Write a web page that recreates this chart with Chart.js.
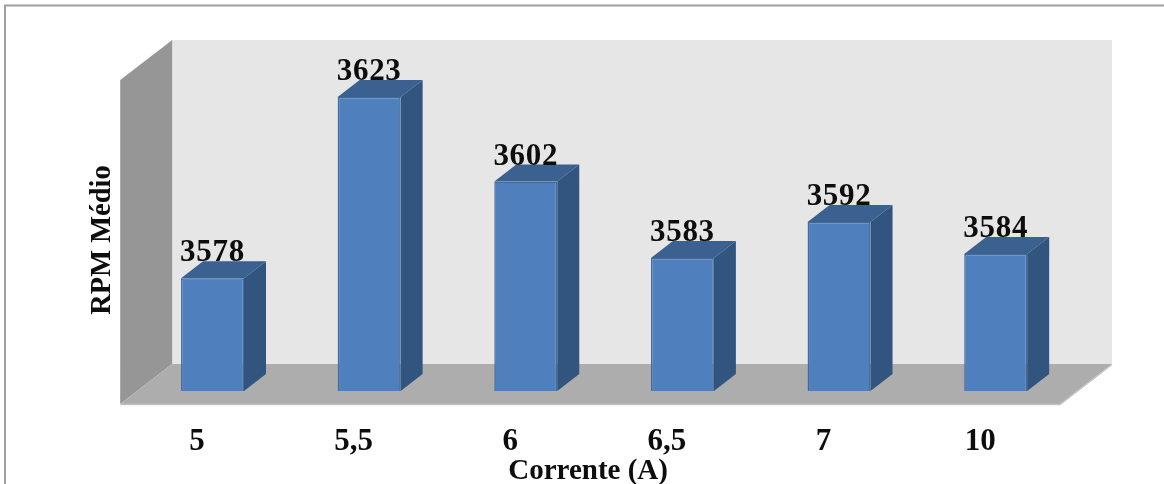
<!DOCTYPE html>
<html>
<head>
<meta charset="utf-8">
<title>RPM Médio</title>
<style>
  html, body { margin: 0; padding: 0; background: #ffffff; }
  #grafico { display: block; }
</style>
<script src="https://cdn.jsdelivr.net/npm/chart.js@4/dist/chart.umd.min.js"></script>
</head>
<body>
<canvas id="grafico" width="1164" height="484"></canvas>
<script>
var categorias = ['5', '5,5', '6', '6,5', '7', '10'];
var rpm_medio = [3578, 3623, 3602, 3583, 3592, 3584];

var titulo_x = 'Corrente (A)';
var titulo_y = 'RPM Médio';

var fonte = '"Liberation Serif", serif';

// Profundidade da barra e do fundo do grafico
var barra_dx = 22, barra_dy = 17;
var fundo_dx = 52, fundo_dy = 40;

function poligono(ctx, pontos, cor) {
    ctx.beginPath();
    ctx.moveTo(pontos[0][0], pontos[0][1]);
    for (var i = 1; i < pontos.length; i++) {
        ctx.lineTo(pontos[i][0], pontos[i][1]);
    }
    ctx.closePath();
    ctx.fillStyle = cor;
    ctx.fill();
}

// Moldura, paredes e chao, atras das barras
var paredes = {
    id: 'paredes',
    beforeDatasetsDraw: function (chart) {
        var ctx = chart.ctx, a = chart.chartArea;
        var esq = a.left - 14, dir = a.right - 14, base = a.bottom + 13;
        var topo = a.top - 9;

        ctx.save();
        ctx.strokeStyle = '#a0a0a0';
        ctx.lineWidth = 2;
        ctx.beginPath();
        ctx.moveTo(5, 484);
        ctx.lineTo(5, 5.5);
        ctx.lineTo(1164, 5.5);
        ctx.stroke();

        poligono(ctx, [[esq + fundo_dx, topo - fundo_dy], [dir + fundo_dx, topo - fundo_dy],
                       [dir + fundo_dx, base - fundo_dy], [esq + fundo_dx, base - fundo_dy]], '#e6e6e6');
        poligono(ctx, [[esq, topo], [esq + fundo_dx, topo - fundo_dy],
                       [esq + fundo_dx, base - fundo_dy], [esq, base]], '#969696');
        poligono(ctx, [[esq, base], [esq + fundo_dx, base - fundo_dy],
                       [dir + fundo_dx, base - fundo_dy], [dir, base]], '#adadad');

        ctx.strokeStyle = '#c4c4c4';
        ctx.lineWidth = 1.5;
        ctx.beginPath();
        ctx.moveTo(esq, base + 0.5);
        ctx.lineTo(dir, base + 0.5);
        ctx.lineTo(dir + fundo_dx, base - fundo_dy + 0.5);
        ctx.stroke();

        // Faces de cima e do lado de cada barra
        chart.getDatasetMeta(0).data.forEach(function (barra) {
            var x0 = barra.x - barra.width / 2, x1 = barra.x + barra.width / 2;
            poligono(ctx, [[x0, barra.y], [x0 + barra_dx, barra.y - barra_dy],
                           [x1 + barra_dx, barra.y - barra_dy], [x1, barra.y]], '#3a6190');
            poligono(ctx, [[x1, barra.y], [x1 + barra_dx, barra.y - barra_dy],
                           [x1 + barra_dx, barra.base - barra_dy], [x1, barra.base]], '#32557f');
        });
        ctx.restore();
    },
    afterDatasetsDraw: function (chart) {
        var ctx = chart.ctx, a = chart.chartArea;
        ctx.save();
        ctx.fillStyle = '#0d0d0d';
        ctx.textAlign = 'center';
        ctx.textBaseline = 'alphabetic';
        ctx.font = 'bold 31px ' + fonte;
        ctx.letterSpacing = '0.7px';
        chart.getDatasetMeta(0).data.forEach(function (barra, i) {
            ctx.fillText(rpm_medio[i], barra.x, barra.y - barra_dy);
        });
        ctx.letterSpacing = '0px';
        // Titulo do eixo x, alinhado com a frente do chao
        ctx.font = 'bold 29px ' + fonte;
        ctx.fillText(titulo_x, (a.left + a.right) / 2 - 16, 479);
        ctx.restore();
    }
};

var ctx = document.getElementById('grafico').getContext('2d');

var myChart = new Chart(ctx, {
    type: 'bar',
    data: {
        labels: categorias,
        datasets: [{
            data: rpm_medio,
            base: 3550,
            backgroundColor: '#4f80bd',
            borderColor: '#3f6c9f',
            borderWidth: 1.5,
            barPercentage: 0.402,
            categoryPercentage: 1
        }]
    },
    options: {
        responsive: false,
        animation: false,
        layout: {
            padding: { left: 80, right: 90, top: 89, bottom: 0 }
        },
        plugins: {
            legend: { display: false },
            tooltip: { enabled: false }
        },
        scales: {
            x: {
                grid: { display: false },
                border: { display: false },
                ticks: {
                    color: '#0d0d0d',
                    font: { family: fonte, size: 31, weight: 'bold' },
                    padding: 24,
                    labelOffset: -15.5,
                    maxRotation: 0
                },
                afterFit: function (escala) { escala.height = 93; }
            },
            y: {
                min: 3550,
                max: 3625,
                grid: { display: false },
                border: { display: false },
                ticks: { display: false },
                title: {
                    display: true,
                    text: titulo_y,
                    color: '#0d0d0d',
                    font: { family: fonte, size: 28.5, weight: 'bold' },
                    padding: { top: 6, bottom: 0 }
                },
                afterFit: function (escala) { escala.width = 54.2; }
            }
        }
    },
    plugins: [paredes]
});
</script>
</body>
</html>
